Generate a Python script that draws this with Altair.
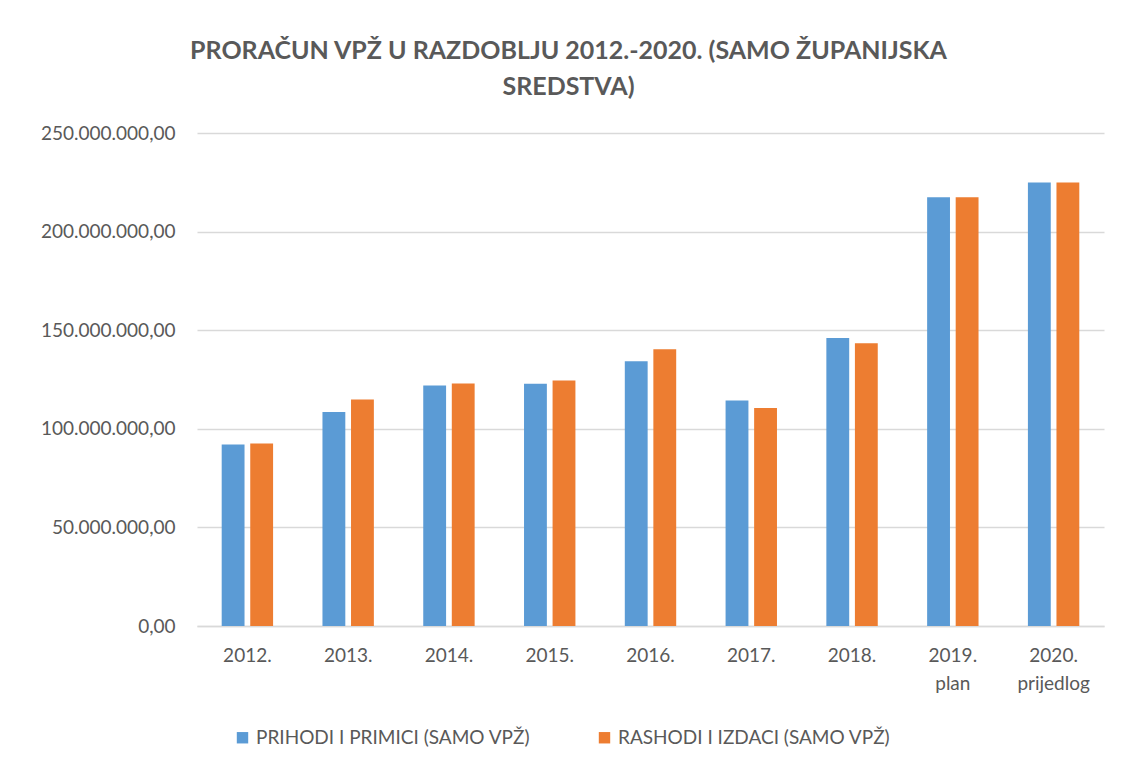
import altair as alt
import pandas as pd

categories = ["2012.", "2013.", "2014.", "2015.", "2016.", "2017.", "2018.", "2019. plan", "2020. prijedlog"]
prihodi = [92100000, 108500000, 122000000, 122800000, 134200000, 114400000, 146100000, 217400000, 224900000]
rashodi = [92600000, 114900000, 123000000, 124500000, 140400000, 110600000, 143400000, 217400000, 224900000]
series = ["PRIHODI I PRIMICI (SAMO VPŽ)", "RASHODI I IZDACI (SAMO VPŽ)"]
colors = ["#5B9BD5", "#ED7D31"]

rows = []
for i, c in enumerate(categories):
    rows.append({"cat": c, "serie": series[0], "val": prihodi[i]})
    rows.append({"cat": c, "serie": series[1], "val": rashodi[i]})
df = pd.DataFrame(rows)

FONT = "Lato"
GRAY = "#595959"

chart = alt.Chart(df).mark_bar().encode(
    x=alt.X("cat:N", sort=categories, title=None,
            scale=alt.Scale(paddingInner=0.49, paddingOuter=0.245),
            axis=alt.Axis(labelAngle=0, labelFontSize=19, labelColor=GRAY, labelFont=FONT,
                          labelPadding=20, ticks=False, domainColor="#d9d9d9", domainWidth=1.5,
                          labelExpr="split(datum.label, ' ')", labelLineHeight=28)),
    xOffset=alt.XOffset("serie:N", sort=series, scale=alt.Scale(paddingInner=0.2, paddingOuter=0)),
    y=alt.Y("val:Q", title=None,
            scale=alt.Scale(domain=[0, 250000000], nice=False),
            axis=alt.Axis(values=[0, 50000000, 100000000, 150000000, 200000000, 250000000],
                          labelFontSize=19, labelColor=GRAY, labelFont=FONT, labelPadding=22,
                          ticks=False, domain=False, gridColor="#d9d9d9", gridWidth=1.3,
                          labelExpr="replace(replace(replace(format(datum.value, ',.2f'), regexp(',', 'g'), '#'), '.', ','), regexp('#', 'g'), '.')")),
    color=alt.Color("serie:N", sort=series,
                    scale=alt.Scale(domain=series, range=colors),
                    legend=alt.Legend(title=None, orient="none", legendX=36, legendY=595,
                                      direction="horizontal", symbolType="square", symbolSize=130,
                                      symbolStrokeWidth=0, labelFontSize=19, labelColor=GRAY,
                                      labelFont=FONT, columnPadding=64, labelLimit=400)),
).properties(
    width=907,
    height=493,
    title=alt.TitleParams(
        text=["PRORAČUN VPŽ U RAZDOBLJU 2012.-2020. (SAMO ŽUPANIJSKA", "SREDSTVA)"],
        fontSize=25, font=FONT, fontWeight="bold", color=GRAY,
        anchor="middle", dx=-82, offset=24, lineHeight=36,
    ),
    autosize=alt.AutoSizeParams(type="none"),
    padding={"left": 189, "top": 125, "right": 12, "bottom": 130},
).configure(background="white").configure_view(strokeWidth=0, stroke="transparent")

chart.save("out.html", embed_options={"renderer": "svg", "actions": False})
